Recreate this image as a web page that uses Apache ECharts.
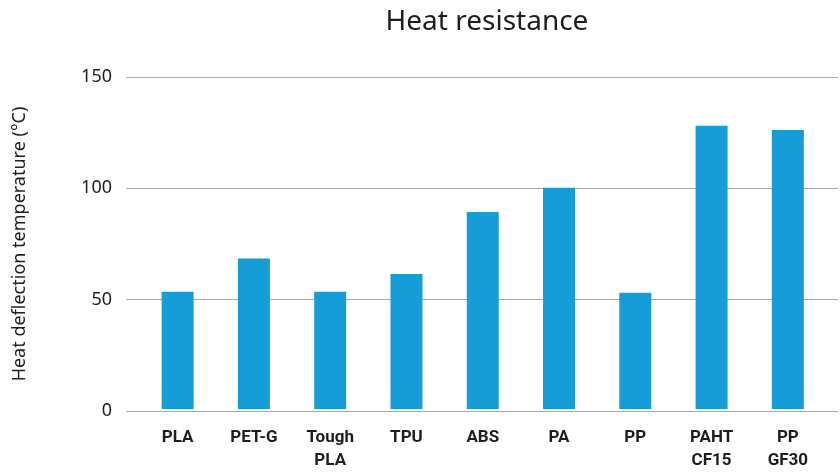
<!DOCTYPE html>
<html>
<head>
<meta charset="utf-8">
<title>Heat resistance</title>
<script src="https://cdn.jsdelivr.net/npm/echarts@6/dist/echarts.min.js"></script>
<style>
  html, body { margin: 0; padding: 0; background: #fff; }
  #chart { width: 840px; height: 472px; }
</style>
</head>
<body>
<div id="chart"></div>
<script>
// materials on the x axis
const materials = ['PLA', 'PET-G', 'Tough\nPLA', 'TPU', 'ABS', 'PA', 'PP', 'PAHT\nCF15', 'PP\nGF30'];
// heat deflection temperature (°C)
const hdtValues = [53, 68, 53, 61, 89, 100, 52.5, 128, 126];
const yMin = 0;
const yMax = 150;
const yStep = 50;

const myChart = echarts.init(document.getElementById('chart'));

const option = {
  animation: false,
  title: {
    text: 'Heat resistance',
    left: 482,
    textAlign: 'center',
    top: 3,
    textStyle: {
      fontFamily: 'Noto Sans',
      fontSize: 28,
      fontWeight: 'normal',
      color: '#1e1e1e'
    }
  },
  // grid 0 only carries the gridlines + y labels (they run wider than the bars)
  grid: [
    { left: 126, right: 2, top: 77, bottom: 61 },
    { left: 139.5, right: 14, top: 77, bottom: 61 }
  ],
  xAxis: [
    { gridIndex: 0, type: 'value', show: false, min: 0, max: 1 },
    {
      gridIndex: 1,
      type: 'category',
      data: materials,
      axisLine: { show: false },
      axisTick: { show: false },
      axisLabel: {
        margin: 17,
        fontFamily: 'Roboto',
        fontWeight: 'bold',
        fontSize: 17,
        lineHeight: 23,
        color: '#1e1e1e',
        verticalAlign: 'top'
      }
    }
  ],
  yAxis: [
    {
      gridIndex: 0,
      type: 'value',
      min: yMin,
      max: yMax,
      interval: yStep,
      name: 'Heat deflection temperature (°C)',
      nameLocation: 'middle',
      nameGap: 97,
      nameTextStyle: {
        fontFamily: 'Noto Sans',
        fontSize: 18,
        color: '#1e1e1e'
      },
      axisLine: { show: false },
      axisTick: { show: false },
      axisLabel: {
        margin: 14,
        fontFamily: 'Noto Sans',
        fontSize: 18,
        color: '#1e1e1e'
      },
      splitLine: { lineStyle: { color: '#a8a8a8', width: 1 } }
    },
    { gridIndex: 1, type: 'value', min: yMin, max: yMax, show: false, splitLine: { show: false } }
  ],
  series: [
    {
      type: 'bar',
      xAxisIndex: 1,
      yAxisIndex: 1,
      data: hdtValues,
      barWidth: 32,
      itemStyle: { color: '#169dd8' }
    }
  ]
};

myChart.setOption(option);
</script>
</body>
</html>
